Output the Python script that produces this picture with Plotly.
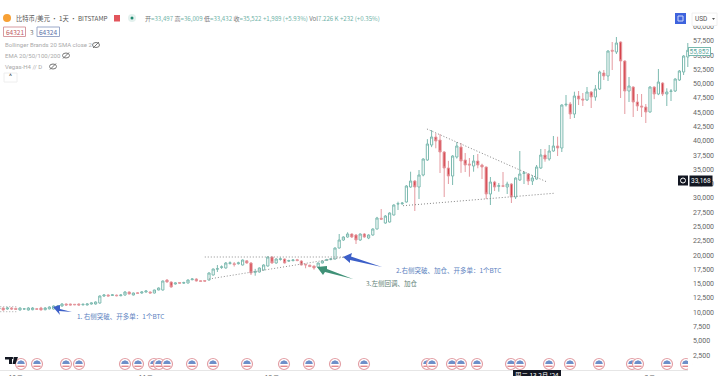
import plotly.graph_objects as go

OPEN = [10575,10750,10575,10750,10680,10400,10575,10400,10450,10620,
10750,10450,10600,10575,10925,11100,11450,11450,11400,11450,
11300,11280,11450,11450,11625,12850,13025,12950,13000,12900,
13025,13550,13025,13400,13375,13550,13550,13375,13900,13900,
15650,15300,14950,15200,15100,15125,15700,15825,15500,15550,
15650,16525,17550,17850,17750,18550,18500,18500,18275,19000,
18625,17000,17050,17400,18100,19675,18625,19250,19325,18950,
19050,19200,18975,18400,18250,18100,17925,18625,19100,19250,
19325,21250,22650,23175,23700,23525,22650,23700,23000,23525,
24575,26450,25625,25800,27025,28950,29000,29300,31925,32975,
31925,34025,36650,39275,40675,40150,38050,35250,33850,37175,
38925,36650,35950,35600,36475,35775,35425,30700,32800,32050,
32150,31925,32450,30175,33150,34300,34200,32975,33325,35250,
37525,36825,38225,39100,38750,46300,46450,44700,47850,47325,
47150,48550,47675,49075,51875,51350,55850,55550,57300,53975,
48725,49425,46800,46100,45925,45050,49425,48200,50125,48200,
48650,48725,50650,52050,54675]
HIGH = [10900,10850,10950,10900,10800,10850,10750,10900,10900,10750,
10950,10900,11050,11200,11250,11600,11550,11500,11450,11550,
11500,11550,11700,11900,12950,13150,13150,13200,13100,13150,
13700,13650,13450,13500,13650,13800,13650,13950,14350,15550,
15800,15400,15200,15300,15350,15750,15950,15950,15550,15650,
17000,17650,18275,18200,18800,18900,18800,18850,19250,19100,
18800,17600,17850,18400,19800,19800,19450,19600,19400,19200,
19300,19350,19100,18500,18300,18150,18700,19050,19350,19500,
21350,23700,23300,24000,23800,23700,23800,23850,23650,24700,
26700,28075,27000,27500,28900,29350,29300,32250,34600,33150,
34900,36950,40300,41900,41300,41200,38200,36500,37500,39800,
39625,37875,37000,37525,37700,36000,35500,33675,33000,32625,
34550,32850,32600,33600,38225,34725,34350,34025,35775,38575,
38575,39275,40850,40725,46400,48025,46800,48600,48725,48375,
49425,48700,49775,52275,52400,55850,57300,58175,57400,54100,
51175,49550,48200,48200,46450,49550,49550,52575,50250,49200,
49075,50950,52400,55000,57125]
LOW = [10400,10300,10450,10400,10450,10300,10450,10300,10350,10450,
10350,10350,10500,10500,10850,11000,11150,11200,11250,11150,
11200,11200,11350,11350,11500,12700,12800,12850,12800,12800,
12900,13150,12950,13250,13250,13450,13300,13300,13850,13800,
15200,14300,14850,15000,14950,15050,15600,15400,15350,15400,
15550,16450,17050,17600,17650,18350,18000,18350,18200,18500,
16525,16400,16950,17300,18000,18500,18500,19050,18550,18800,
18900,18950,18200,17700,17900,17450,17850,18550,19000,19100,
19250,21150,22500,23050,23000,21950,22500,23050,22800,23400,
24500,26150,25500,25700,26950,27900,28800,29200,31800,27725,
29825,33800,36500,38900,38700,34375,30175,32450,32275,36900,
34400,34550,33725,34600,35200,33325,29825,28775,31225,31100,
31900,30700,29125,29825,33000,32450,32275,32275,33200,35100,
36350,36525,38100,37350,38050,46000,43825,44000,46275,46100,
47000,45750,47025,48900,50650,50475,52400,55200,47500,44700,
46800,44175,45225,44175,43125,44950,47300,48000,47850,46100,
46975,48550,50500,51525,52925]
CLOSE = [10750,10400,10750,10575,10500,10750,10600,10750,10750,10530,
10400,10750,10925,11100,11100,11450,11275,11280,11320,11275,
11400,11450,11625,11800,12850,13025,12850,13050,12900,13025,
13550,13200,13375,13320,13550,13725,13375,13900,14250,15475,
15300,14425,15125,15100,15200,15650,15825,15475,15425,15450,
16875,17575,17620,17950,18625,18650,18350,18650,19150,18625,
16875,17100,17750,18275,19675,18625,19325,19350,18625,19050,
19150,19050,18275,18300,18000,17750,18625,18975,19180,19350,
21250,22650,23175,23700,23175,22650,23700,23175,23525,24575,
26500,26300,26850,27375,28775,29000,29100,32100,32975,31925,
34025,36825,39450,40675,39975,38050,35250,33850,37350,39100,
36475,35775,35775,36475,35775,35425,30700,32800,31925,32150,
32050,32450,30175,33500,34200,34400,32975,33500,35425,37525,
36825,38225,39100,38750,46275,46400,44700,47850,47325,47150,
48550,47675,49075,52050,51350,55725,55700,57125,53975,48725,
49600,46800,46100,45925,45050,49425,48200,50300,48200,48550,
48725,50825,52225,54850,55852]

PRICE_TICKS = list(range(2500, 60001, 2500))
DATE_TICK_POS = [4, 15, 24, 35, 50, 65, 78, 87, 96, 106, 115, 141, 155]
DATE_TICK_TEXT = ["10月", "12", "26", "11月", "16", "12月", "14", "23", "2024", "11", "20", "16", "3月"]
EVENT_PX = [21, 37, 66, 79, 125, 138, 154, 159, 167, 192, 213, 247, 284, 309, 335, 364,
            427, 432, 452, 461, 477, 511, 520, 549, 570, 599, 632, 638, 667, 686]

W, H, PW, PH = 720, 376, 692, 370
GREEN = "#7dbab0"
RED_FILL, RED_WICK = "#d5434b", "#e59aa0"
CJK = "Noto Sans CJK SC, Roboto, sans-serif"
LATIN = "Roboto, Noto Sans CJK SC, sans-serif"

px = lambda x: x / PW
py = lambda y: 1 - y / PH

fig = go.Figure(go.Candlestick(
    x=list(range(len(OPEN))), open=OPEN, high=HIGH, low=LOW, close=CLOSE,
    whiskerwidth=0,
    increasing=dict(line=dict(color=GREEN, width=1), fillcolor="#ffffff"),
    decreasing=dict(line=dict(color=RED_WICK, width=1), fillcolor=RED_FILL),
    showlegend=False))

shapes, notes = [], []

def rect(x0, y0, x1, y1, fill="rgba(0,0,0,0)", line="rgba(0,0,0,0)", lw=1, kind="rect", op=1):
    shapes.append(dict(type=kind, xref="paper", yref="paper", x0=px(x0), x1=px(x1), y0=py(y0), y1=py(y1),
                       fillcolor=fill, line=dict(color=line, width=lw), opacity=op, layer="above"))

def poly(pts, fill):
    d = "M " + " L ".join(f"{px(a):.5f},{py(b):.5f}" for a, b in pts) + " Z"
    shapes.append(dict(type="path", xref="paper", yref="paper", path=d, fillcolor=fill,
                       line=dict(width=0), layer="above"))

def text(x, y, s, size=7, color="#666", anchor="left", font=CJK, **kw):
    notes.append(dict(xref="paper", yref="paper", x=px(x), y=py(y), text=s, showarrow=False,
                      xanchor=anchor, yanchor="middle", borderpad=0,
                      font=dict(size=size, color=color, family=font), **kw))

def trend(i0, p0, i1, p1, color="#8f8f8f"):
    shapes.append(dict(type="line", xref="x", yref="y", x0=i0, x1=i1, y0=p0, y1=p1,
                       line=dict(color=color, width=1, dash="1px,2px"), layer="above"))

trend(49, 19675, 82.4, 19675)
trend(50, 15825, 82.4, 19675)
trend(101.9, 42075, 130.5, 32800, "#858585")
trend(96.2, 28650, 132.1, 30825, "#858585")
trend(0.3, 10975, 4.3, 10975, "#a8a8a8")
trend(0.3, 10100, 4.3, 10100, "#a8a8a8")

poly([(53, 307), (60, 305), (60, 309), (72, 312), (59, 311), (60, 315)], "#3c5fc8")
poly([(343, 257), (352, 253), (351, 256.5), (382, 267), (350, 260), (350, 263)], "#3c5fc8")
poly([(317, 267), (327, 266), (327, 269), (353, 279), (325, 272), (323, 275)], "#3f9177")
text(76, 316, "1. 右侧突破、开多单：1个BTC", 6.5, "#5b7fc0")
text(395, 270, "2.右侧突破、加仓、开多单：1个BTC", 6.5, "#5b7fc0")
text(365, 283, "3.左侧回调、加仓", 6.5, "#5f7f76")

# header
rect(3, 14, 11, 22, fill="#f7a035", kind="circle")
text(15, 18.5, "比特币/美元 · 1天 · BITSTAMP", 6.3, "#555")
rect(114, 15, 120, 21.5, fill="#e2555c")
rect(128, 14, 136, 22, fill="#e4f1ee", kind="circle")
rect(130.5, 16.5, 133.5, 19.5, fill="#1f8a70", kind="circle")
g = lambda s: f'<span style="color:#70b3a8">{s}</span>'
text(144, 18.5, f"开{g('=33,497')} 高{g('=36,009')} 低{g('=33,432')} 收{g('=35,522')} "
     + g("+1,989 (+5.93%)") + f" Vol{g('7.226 K')} " + g("+232 (+0.35%)"), 6.1, "#777")
rect(3.5, 27, 25.5, 36.5, fill="#fff", line="#d79aa0", lw=1)
text(14.5, 32, "64321", 6.5, "#c05a63", "center")
text(32, 32, "3", 6.5, "#777", "center")
rect(37, 27, 59.5, 36.5, fill="#fff", line="#9aa8c8", lw=1)
text(48, 32, "64324", 6.5, "#5a6fa8", "center")
for y, label, ex in [(45, "Bollinger Brands 20 SMA close 2", 96),
                     (55.5, "EMA 20/50/100/200", 66), (66.5, "Vegas-H4 // D", 53)]:
    text(4, y, label, 6, "#aaaaaa", font=LATIN)
    rect(ex - 3.5, y - 2.5, ex + 3.5, y + 2.5, line="#777", lw=1, kind="circle")
    shapes.append(dict(type="line", xref="paper", yref="paper", x0=px(ex - 3), x1=px(ex + 3),
                       y0=py(y + 3), y1=py(y - 3), line=dict(color="#777", width=1), layer="above"))
rect(4, 73, 17, 82, fill="#fff", line="#eeeeee")
text(10.5, 77, "^", 7, "#444", "center", LATIN)

# toolbar right
rect(675, 13, 686, 24, fill="#3e63dd")
rect(678, 16, 683, 21, line="#cfd8f8", lw=1)
rect(692, 13, 717, 25.5, fill="#fff", line="#f0f0f0")
text(694, 18.5, "USD", 6.5, "#555", font=LATIN)
poly([(712, 18), (715, 18), (713.5, 20)], "#555")

# price labels: annotations with their own background sit over the axis tick text
text(688, 51.2, "55,852", 6.5, "#5da79c", "left", LATIN, bgcolor="#ffffff", bordercolor="#78b8ae",
     borderwidth=1, width=21, height=7, align="center")
rect(678, 175.5, 688, 185.5, fill="#131722")
rect(680.5, 178, 685.5, 183, line="#fff", kind="circle")
text(689, 180.5, "33,168", 6.5, "#ffffff", "left", LATIN, bgcolor="#131722",
     width=22, height=10, align="center")

# event markers
for x in EVENT_PX:
    rect(x - 5.5, 358.5, x + 5.5, 369.5, fill="#fff", line="#e3a0a6", lw=1.2, kind="circle")
    poly([(x - 3.8, 364), (x - 3, 361.5), (x, 360.3), (x + 3, 361.5), (x + 3.8, 364)], "#6d8fc9")
    rect(x - 3.6, 365.6, x + 3.6, 367, fill="#e28a90")
rect(688, 356, 692, 372, fill="#fff")

# TradingView mark
poly([(5, 357), (12, 357), (12, 364), (9, 364), (9, 359.5), (5, 359.5)], "#131722")
poly([(14, 357), (18, 357), (15.5, 364), (12.5, 364)], "#131722")
rect(11.5, 357, 13.5, 359, fill="#131722", kind="circle")

# crosshair date label
rect(513, 370, 561, 378, fill="#131722")
text(537, 374.5, "周二 13 2月 '24", 6.5, "#fff", "center")

fig.update_layout(
    width=W, height=H, autosize=False,
    margin=dict(l=0, r=W - PW, t=0, b=H - PH, pad=0, autoexpand=False),
    paper_bgcolor="#fff", plot_bgcolor="#fff",
    boxgap=0.25, showlegend=False,
    shapes=shapes, annotations=notes,
    xaxis=dict(range=[0.24, 165], rangeslider=dict(visible=False), showgrid=False, zeroline=False,
               automargin=False, tickmode="array", tickvals=DATE_TICK_POS, ticktext=DATE_TICK_TEXT,
               ticklen=0, ticklabelstandoff=2, tickfont=dict(size=7, color="#666", family=CJK),
               showline=True, linecolor="#e6e6e6", linewidth=1),
    yaxis=dict(range=[-100, 64650], side="right", showgrid=False, zeroline=False, automargin=False,
               tickmode="array", tickvals=PRICE_TICKS, ticktext=[f"{v:,}" for v in PRICE_TICKS],
               ticklen=0, tickfont=dict(size=7, color="#666", family=LATIN), showline=False),
)
fig.write_html("out.html", config=dict(displayModeBar=False),
               post_script="document.documentElement.style.overflow='hidden';document.body.style.margin='0';document.body.style.overflow='hidden';")
